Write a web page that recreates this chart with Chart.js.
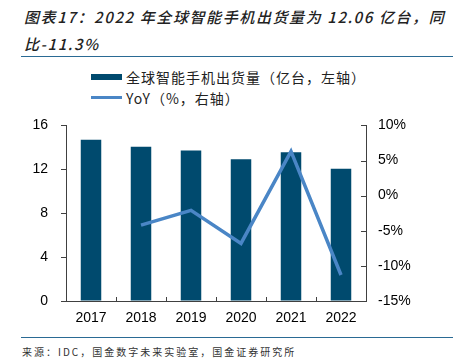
<!DOCTYPE html>
<html lang="zh">
<head>
    <meta charset="UTF-8">
    <title>全球智能手机出货量</title>
    <script src="https://cdn.jsdelivr.net/npm/chart.js"></script>
    <style>
        body {
            margin: 0;
            width: 453px;
            height: 364px;
            background: #ffffff;
            font-family: 'Noto Sans CJK SC', sans-serif;
            position: relative;
            overflow: hidden;
        }

        /* Title */
        .title {
            position: absolute;
            left: 24px;
            top: 3px;
            font-size: 15px;
            line-height: 27px;
            font-style: italic;
            font-weight: 500;
            letter-spacing: 1.6px;
            color: #222;
            white-space: nowrap;
        }

        .rule {
            position: absolute;
            left: 21px;
            right: 0;
            height: 1px;
            background: #2a6a94;
        }

        /* Legend */
        .legend {
            position: absolute;
            left: 91px;
            top: 66px;
            font-size: 14px;
            letter-spacing: 1px;
            color: #222;
        }

        .legend-row {
            display: flex;
            align-items: center;
            height: 21px;
        }

        .swatch {
            width: 31px;
            margin-right: 4px;
        }

        .chart-box {
            position: absolute;
            left: 0;
            top: 104px;
            width: 453px;
            height: 230px;
        }

        .source {
            position: absolute;
            left: 22px;
            top: 344px;
            font-size: 10px;
            letter-spacing: 2px;
            color: #333;
            white-space: nowrap;
        }
    </style>
</head>
<body>
    <div class="title">图表17：2022 年全球智能手机出货量为 12.06 亿台，同<br>比-11.3%</div>
    <div class="rule" style="top: 56px;"></div>

    <div class="legend" id="legend"></div>

    <div class="chart-box">
        <canvas id="shipChart" width="453" height="230"></canvas>
    </div>

    <div class="rule" style="top: 337px;"></div>
    <div class="source">来源：IDC，国金数字未来实验室，国金证券研究所</div>

    <script>
        // Data
        const years = ['2017', '2018', '2019', '2020', '2021', '2022'];
        const shipments = [14.7, 14.05, 13.71, 12.92, 13.55, 12.06];   // 亿台
        const yoy = [null, -4.2, -2.1, -6.8, 6.3, -11.3];             // %

        const barLabel = '全球智能手机出货量（亿台，左轴）';
        const lineLabel = 'YoY（%，右轴）';
        const barColor = '#004a6e';
        const lineColor = '#4a86c6';
        const axisColor = '#404040';

        // HTML legend
        const legend = document.getElementById('legend');
        legend.innerHTML =
            '<div class="legend-row"><span class="swatch" style="height:6px;background:' + barColor + '"></span>' + barLabel + '</div>' +
            '<div class="legend-row"><span class="swatch" style="height:3px;background:' + lineColor + '"></span>' + lineLabel + '</div>';

        // short inward tick marks for the x axis and right axis
        const innerTicks = {
            id: 'innerTicks',
            afterDraw(chart) {
                const ctx = chart.ctx;
                const x = chart.scales.x;
                const y1 = chart.scales.y1;
                ctx.save();
                ctx.strokeStyle = axisColor;
                ctx.lineWidth = 1;
                ctx.beginPath();
                for (let i = 1; i < years.length; i++) {
                    const px = Math.round((x.getPixelForValue(i - 1) + x.getPixelForValue(i)) / 2) + 0.5;
                    ctx.moveTo(px, x.top);
                    ctx.lineTo(px, x.top - 4);
                }
                y1.ticks.forEach((t, i) => {
                    const py = Math.round(y1.getPixelForTick(i)) + 0.5;
                    ctx.moveTo(y1.left, py);
                    ctx.lineTo(y1.left - 5, py);
                });
                ctx.stroke();
                ctx.restore();
            }
        };

        new Chart(document.getElementById('shipChart'), {
            data: {
                labels: years,
                datasets: [
                    {
                        type: 'line',
                        label: lineLabel,
                        data: yoy,
                        yAxisID: 'y1',
                        borderColor: lineColor,
                        borderWidth: 3.5,
                        pointRadius: 0,
                        tension: 0,
                        order: 0
                    },
                    {
                        type: 'bar',
                        label: barLabel,
                        data: shipments,
                        yAxisID: 'y',
                        backgroundColor: barColor,
                        barPercentage: 0.41,
                        categoryPercentage: 1,
                        order: 1
                    }
                ]
            },
            options: {
                responsive: false,
                animation: false,
                layout: { padding: { top: 9, left: 0, right: 0, bottom: 0 } },
                plugins: {
                    legend: { display: false },
                    tooltip: { enabled: false }
                },
                scales: {
                    x: {
                        offset: true,
                        grid: { display: false, drawTicks: false },
                        border: { color: axisColor, width: 1 },
                        ticks: {
                            color: '#000',
                            padding: 9,
                            font: { family: 'Liberation Sans', size: 14 }
                        },
                        afterFit: s => { s.height = 33; }
                    },
                    y: {
                        position: 'left',
                        min: 0,
                        max: 16,
                        grid: { drawOnChartArea: false, drawTicks: true, tickLength: 5, color: axisColor },
                        border: { color: axisColor, width: 1 },
                        ticks: {
                            stepSize: 4,
                            color: '#000',
                            padding: 13,
                            font: { family: 'Liberation Sans', size: 14 }
                        },
                        afterFit: s => { s.width = 66; }
                    },
                    y1: {
                        position: 'right',
                        min: -15,
                        max: 10,
                        grid: { display: false, drawTicks: false },
                        border: { color: axisColor, width: 1 },
                        ticks: {
                            stepSize: 5,
                            color: '#000',
                            padding: 12,
                            font: { family: 'Liberation Sans', size: 14 },
                            callback: v => v + '%'
                        },
                        afterFit: s => { s.width = 87; }
                    }
                }
            },
            plugins: [innerTicks]
        });
    </script>
</body>
</html>
